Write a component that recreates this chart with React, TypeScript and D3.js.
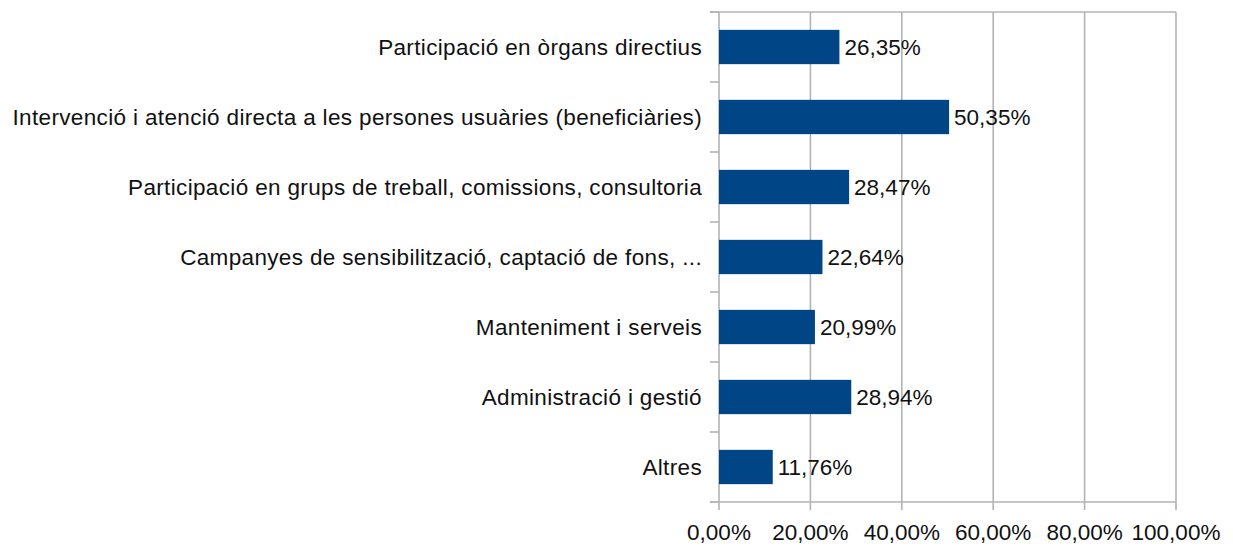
import React from "react";
import * as d3 from "d3";

// categories, top to bottom
const categories = [
  "Participació en òrgans directius",
  "Intervenció i atenció directa a les persones usuàries (beneficiàries)",
  "Participació en grups de treball, comissions, consultoria",
  "Campanyes de sensibilització, captació de fons, ...",
  "Manteniment i serveis",
  "Administració i gestió",
  "Altres",
];

const values = [0.2635, 0.5035, 0.2847, 0.2264, 0.2099, 0.2894, 0.1176];

const xTicks = [0, 0.2, 0.4, 0.6, 0.8, 1];

const W = 1233,
  H = 546;
const left = 719,
  right = 1176,
  top = 12,
  bottom = 502;

const fmt = (v: number) => (v * 100).toFixed(2).replace(".", ",") + "%";

export default function App() {
  const x = d3.scaleLinear().domain([0, 1]).range([left, right]);
  const y = d3.scaleBand<string>().domain(categories).range([top, bottom]).padding(0);
  const barH = y.bandwidth() * 0.49;
  const font = "'Liberation Sans', Arial, sans-serif";
  const grid = "#b3b3b3";

  // band edges for the little ticks on the category axis
  const edges = categories.map((c) => y(c) as number).concat([bottom]);

  return (
    <svg
      width={W}
      height={H}
      style={{ position: "fixed", left: 0, top: 0, background: "#fff" }}
      fontFamily={font}
    >
      {/* vertical gridlines */}
      {xTicks.map((t) => (
        <line key={"g" + t} x1={x(t)} x2={x(t)} y1={top} y2={bottom + 8} stroke={grid} strokeWidth={1.6} />
      ))}
      {/* top border + bottom axis */}
      <line x1={left - 9} x2={right} y1={top} y2={top} stroke={grid} strokeWidth={1.6} />
      <line x1={left - 9} x2={right} y1={bottom} y2={bottom} stroke={grid} strokeWidth={1.6} />
      {/* category ticks */}
      {edges.map((e, i) => (
        <line key={"t" + i} x1={left - 9} x2={left} y1={e} y2={e} stroke={grid} strokeWidth={1.6} />
      ))}

      {/* bars */}
      {categories.map((c, i) => {
        const cy = (y(c) as number) + y.bandwidth() / 2;
        return (
          <g key={c}>
            <rect x={x(0)} y={cy - barH / 2} width={x(values[i]) - x(0)} height={barH} fill="#004586" />
            <text x={x(values[i]) + 5} y={cy + 8} fontSize={22.5} fill="#111">
              {fmt(values[i])}
            </text>
            <text x={left - 17} y={cy + 8} fontSize={22.5} fill="#111" textAnchor="end" letterSpacing={0.35}>
              {c}
            </text>
          </g>
        );
      })}

      {/* x tick labels */}
      {xTicks.map((t) => (
        <text key={"l" + t} x={x(t)} y={540} fontSize={22.5} fill="#111" textAnchor="middle">
          {fmt(t)}
        </text>
      ))}
    </svg>
  );
}
